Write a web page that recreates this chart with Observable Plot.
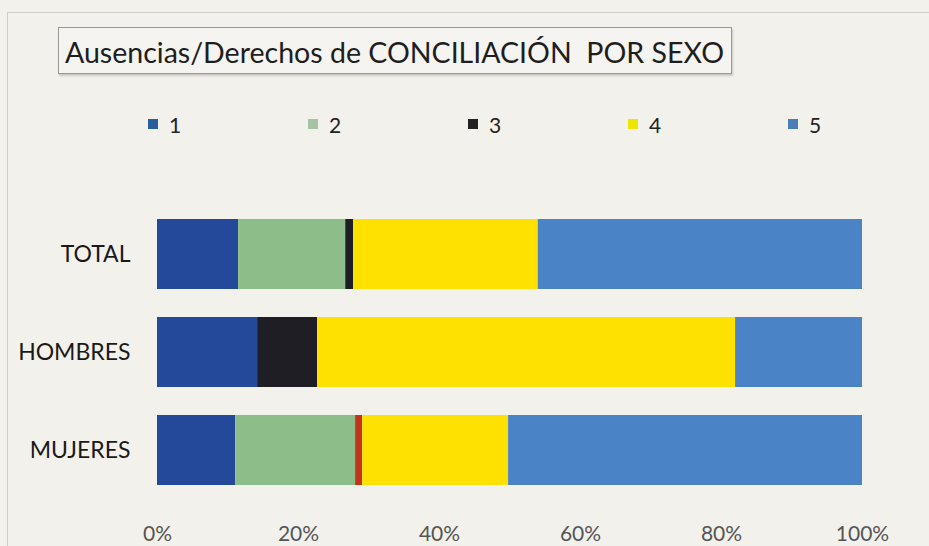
<!DOCTYPE html>
<html>
<head>
<meta charset="utf-8">
<script src="https://cdn.jsdelivr.net/npm/d3@7"></script>
<script src="https://cdn.jsdelivr.net/npm/@observablehq/plot@0.6"></script>
<style>
  html, body { margin: 0; padding: 0; background: #f3f1ec; }
  #wrap { position: relative; width: 929px; height: 546px; overflow: hidden; background: #f3f1ec; font-family: Lato, "Open Sans", sans-serif; }
  #frame { position: absolute; left: 7px; top: 12px; width: 940px; height: 560px; border: 1px solid #cfcdc8; box-sizing: border-box; }
  #title { position: absolute; left: 58px; top: 27px; width: 674px; height: 47px; border: 1px solid #9a9893; box-shadow: 1px 2px 2px #c9c7c2; background: #f5f4f0; box-sizing: border-box; }
  #title svg { position: absolute; left: 0; top: 0; }
  #title text { white-space: pre; }
  .leg { position: absolute; top: 113px; height: 24px; font-size: 21px; color: #222; line-height: 24px; }
  .leg .sw { position: absolute; left: 0; top: 6px; width: 10px; height: 10px; }
  .leg .lb { position: absolute; left: 21px; top: 0; }
  #chart { position: absolute; left: 0; top: 0; }
</style>
</head>
<body>
<div id="wrap">
  <div id="frame"></div>
  <div id="title">
    <svg width="674" height="47"><text x="6" y="35" textLength="659" lengthAdjust="spacingAndGlyphs" font-family="Lato, 'Open Sans', sans-serif" font-size="28" fill="#1e1e1e" xml:space="preserve">Ausencias/Derechos de CONCILIACIÓN  POR SEXO</text></svg>
  </div>
  <div id="legend"></div>
  <div id="chart"></div>
</div>
<script>
const categories = ["TOTAL", "HOMBRES", "MUJERES"];
const series = ["1", "2", "3", "4", "5"];
const s1 = [11.5, 14.2, 11.1];
const s2 = [15.2, 0, 17.0];
const s3 = [1.1, 8.5, 1.0];
const s4 = [26.2, 59.3, 20.7];
const s5 = [46.0, 18.0, 50.2];
const xTicks = [0, 20, 40, 60, 80, 100];

const colors = { "1": "#24499a", "2": "#8dbd88", "3": "#1e1e24", "4": "#ffe100", "5": "#4b84c6" };
const legendColors = { "1": "#2a5d9c", "2": "#a6c3a4", "3": "#222222", "4": "#eee600", "5": "#4a7db5" };
const highlight = "#c4341c"; // thin red strip in MUJERES, series 3

const valuesBySeries = [s1, s2, s3, s4, s5];
const rows = [];
series.forEach((k, j) => {
  categories.forEach((c, i) => rows.push({ sexo: c, k, v: valuesBySeries[j][i] }));
});

// legend
const legend = document.getElementById("legend");
series.forEach((k, i) => {
  const d = document.createElement("div");
  d.className = "leg";
  d.style.left = (148 + 160 * i) + "px";
  d.innerHTML = `<span class="sw" style="background:${legendColors[k]}"></span><span class="lb">${k}</span>`;
  legend.appendChild(d);
});

const chart = Plot.plot({
  width: 929,
  height: 546,
  marginLeft: 157,
  marginRight: 67,
  marginTop: 189,
  marginBottom: 32,
  style: { background: "transparent", fontFamily: "Lato, 'Open Sans', sans-serif" },
  x: { domain: [0, 100], axis: null },
  y: { domain: categories, padding: 0.29, axis: null },
  marks: [
    Plot.barX(rows, {
      x: "v",
      y: "sexo",
      fill: d => (d.sexo === "MUJERES" && d.k === "3") ? highlight : colors[d.k],
      inset: 0
    }),
    Plot.axisY({ tickSize: 0, tickPadding: 27, fontSize: 23, color: "#1a1a1a", label: null }),
    Plot.axisX({ ticks: xTicks, tickFormat: d => d + "%", tickSize: 0, tickPadding: 12, fontSize: 21, color: "#555", label: null })
  ]
});
document.getElementById("chart").appendChild(chart);
</script>
</body>
</html>
